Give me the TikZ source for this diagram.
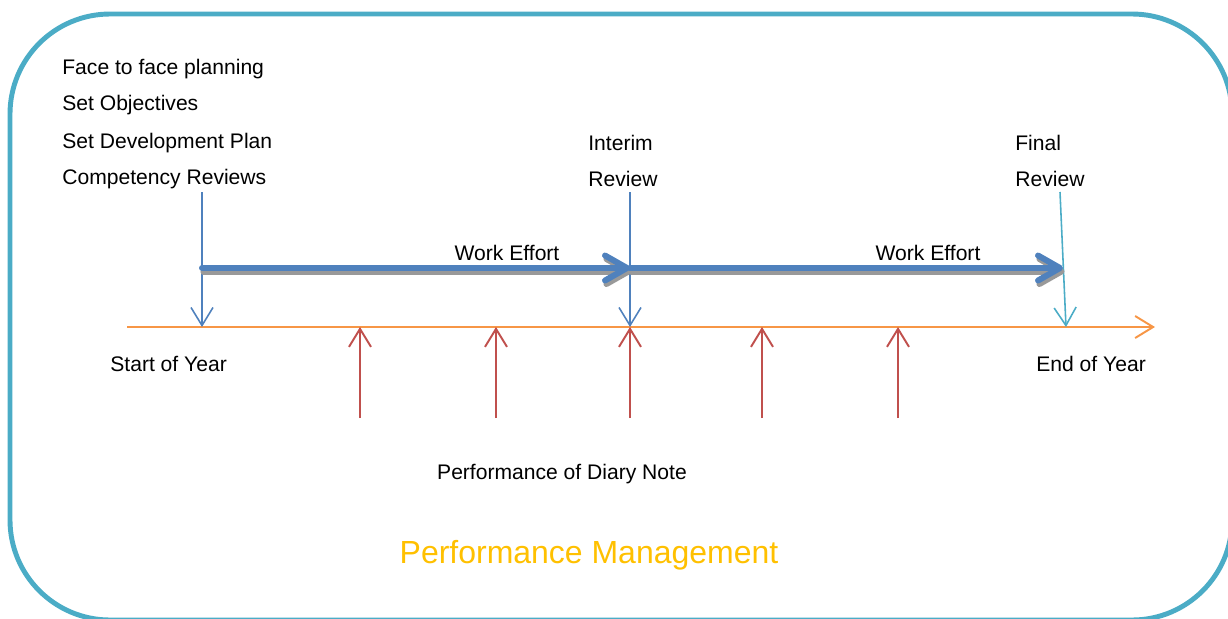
\documentclass[tikz,border=0pt]{standalone}
\usepackage{fontspec}
\setmainfont{Liberation Sans}
\usetikzlibrary{arrows.meta}
\definecolor{frameteal}{RGB}{75,172,198}
\definecolor{axisorange}{RGB}{247,150,70}
\definecolor{markblue}{RGB}{79,129,189}
\definecolor{notered}{RGB}{192,80,77}
\definecolor{titlegold}{RGB}{255,192,0}
\tikzset{
  txt/.style={anchor=west,inner sep=0pt,font=\fontsize{12}{14}\selectfont},
  ctxt/.style={inner sep=0pt,font=\fontsize{12}{14}\selectfont},
  barb/.style={-{Straight Barb[length=3.6mm,width=4.4mm]}},
  effort/.style={line width=3.4pt,-{Straight Barb[length=4.4mm,width=5mm,round]},line cap=round}
}
\begin{document}
\begin{tikzpicture}[x=0.2mm,y=-0.2mm]
        \useasboundingbox (0,0) rectangle (1228,618);
        % frame
        \begin{scope}
        \clip (0,0) rectangle (1228,618);
        \draw[frameteal,line width=2.8pt,rounded corners=20mm] (10,14) rectangle (1232,620);
        \end{scope}

        % 1. labels at the top
        \node[txt] (face) at (62,69) {Face to face planning};
        \node[txt] (obj) at (62,105) {Set Objectives};
        \node[txt] (dev) at (62,143) {Set Development Plan};
        \node[txt] (comp) at (62,179) {Competency Reviews};
        \node[txt] (interim) at (588,143) {Interim};
        \node[txt] (irev) at (588,179) {Review};
        \node[txt] (final) at (1015,143) {Final};
        \node[txt] (frev) at (1015,179) {Review};

        % 2. time line
        \coordinate (ax0) at (127,327);
        \coordinate (ax1) at (1155,327);
        \coordinate (start) at (202,327);
        \coordinate (mid) at (630,327);
        \coordinate (finish) at (1066,327);
        \draw[axisorange,line width=1.1pt,barb] (ax0) -- (ax1);
        \node[txt] (soy) at (110,364) {Start of Year};
        \node[txt] (eoy) at (1036,364) {End of Year};

        % 3. review markers
        \coordinate (s0) at (202,192);
        \coordinate (m0) at (630,192);
        \coordinate (f0) at (1060,192);
        \draw[markblue,line width=0.9pt,barb] (s0) -- (start);
        \draw[markblue,line width=0.9pt,barb] (m0) -- (mid);
        \draw[frameteal,line width=0.9pt,barb] (f0) -- (finish);

        % 4. work effort
        \coordinate (w0) at (202,268);
        \coordinate (w1) at (630,268);
        \coordinate (w2) at (1063,268);
        \draw[black!40,effort,transform canvas={xshift=0.8pt,yshift=-2pt}] (w0) -- (w1);
        \draw[black!40,effort,transform canvas={xshift=0.8pt,yshift=-2pt}] (w1) -- (w2);
        \draw[markblue,effort] (w0) -- (w1);
        \draw[markblue,effort] (w1) -- (w2);
        \node[ctxt] (we1) at (507,253) {Work Effort};
        \node[ctxt] (we2) at (928,253) {Work Effort};

        % 5. diary notes
        \foreach \x [count=\i] in {360,496,630,762,898} {
          \coordinate (n\i) at (\x,418);
          \coordinate (t\i) at (\x,327);
          \draw[notered,line width=1.1pt,barb] (n\i) -- (t\i);
        }
        \node[ctxt] (diary) at (562,474) {Performance of Diary Note};

        % 6. title
        \node[inner sep=0pt,text=titlegold,font=\fontsize{18.2}{21}\selectfont] (title) at (589,555) {Performance Management};
    \end{tikzpicture}
\end{document}
